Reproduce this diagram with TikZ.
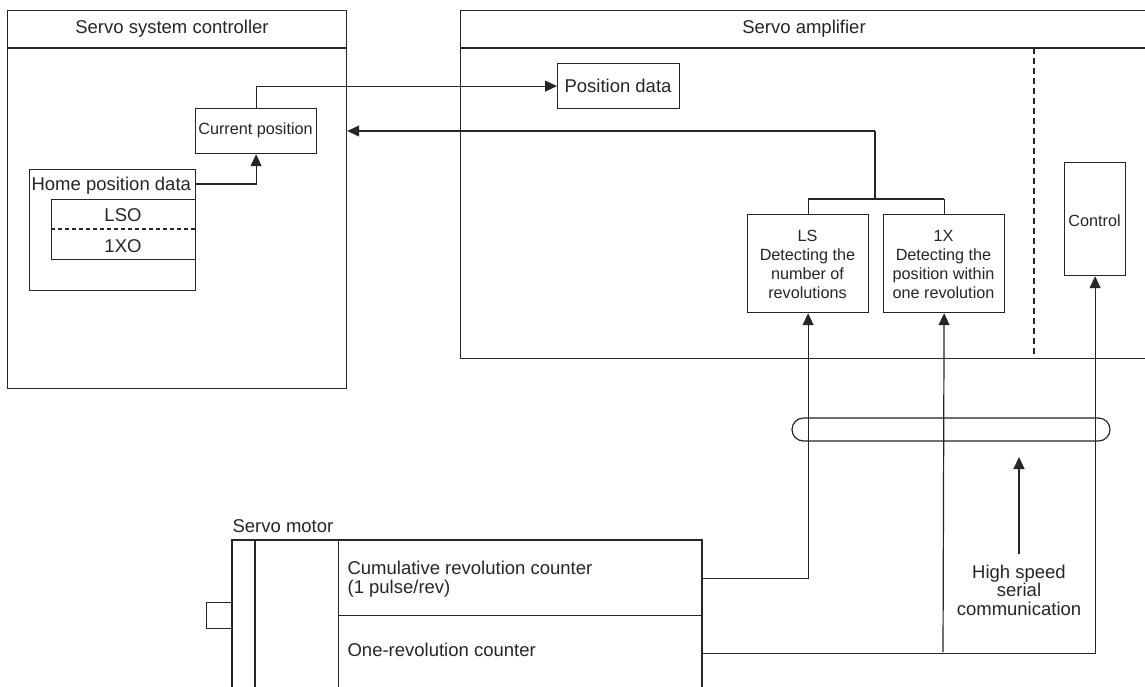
\documentclass[tikz,border=0pt]{standalone}
\usepackage{fontspec}
\setmainfont{Liberation Sans}
\usetikzlibrary{arrows.meta}
\begin{document}
\begin{tikzpicture}[x=1pt,y=-1pt,
  line width=1.2pt, draw=black!85,
  big/.style={font=\fontsize{18.5}{18.5}\selectfont, text=black!85},
  small/.style={font=\fontsize{16.2}{19}\selectfont, text=black!85},
  box/.style={draw, inner sep=0pt, anchor=north west},
  arr/.style={-{Triangle[length=12pt,width=11pt]}},
  lbl/.style={inner sep=0pt}]
\clip (0,0) rectangle (1145,686);
\fill[white] (0,0) rectangle (1145,686);

% Servo system controller
\node[box, minimum width=339pt, minimum height=378pt] (ctrl) at (7,10) {};
\draw (7,48) -- (346,48);
\node[big, lbl] (ctrlt) at (172,29) {Servo system controller};
\node[box, small, minimum width=121pt, minimum height=45pt] (cur) at (195,108) {};
\node[small, lbl] (curt) at (255.5,130.5) {Current position};
\node[box, minimum width=166pt, minimum height=121pt] (home) at (29,169) {};
\node[big, lbl, anchor=west] (homet) at (31,186) {Home position data};
\node[box, minimum width=144pt, minimum height=60pt] (lso) at (51,199) {};
\draw[dashed, dash pattern=on 4pt off 3pt] (51,229) -- (195,229);
\node[big, lbl] (lsot) at (123,215) {LSO};
\node[big, lbl] (xot) at (123,246) {1XO};

% Servo amplifier
\node[box, minimum width=690pt, minimum height=348pt] (amp) at (460,10) {};
\draw (460,48) -- (1150,48);
\node[big, lbl] (ampt) at (804,29) {Servo amplifier};
\node[box, minimum width=122pt, minimum height=45pt] (pos) at (557,63) {};
\node[big, lbl] (post) at (618,86) {Position data};
\node[box, minimum width=121pt, minimum height=98pt] (ls) at (747,214) {};
\node[small, lbl, align=center] (lst) at (807.5,264) {LS\\Detecting the\\number of\\revolutions};
\node[box, minimum width=121pt, minimum height=98pt] (onex) at (883,214) {};
\node[small, lbl, align=center] (onext) at (943.5,264) {1X\\Detecting the\\position within\\one revolution};
\draw[dashed, dash pattern=on 6pt off 4pt] (1034,48) -- (1034,358);
\node[box, minimum width=61pt, minimum height=113pt] (ctl) at (1064,162) {};
\node[small, lbl] (ctlt) at (1094.5,221) {Control};

% connectors in controller/amplifier
\coordinate (j1) at (875,131);
\coordinate (j2) at (875,199);
\draw[arr] (home.east |- 0,184) -| (cur.south);
\draw[arr] (cur.north) |- (pos.west);
\draw[arr] (j1) -- (ctrl.east |- j1);
\draw (j1) -- (j2);
\draw (ls.north |- j2) -- (onex.north |- j2);
\draw (ls.north |- j2) -- (ls.north);
\draw (onex.north |- j2) -- (onex.north);

% Servo motor
\node[big, lbl, anchor=west] (mot) at (232,526) {Servo motor};
\draw (232,700) -- (232,540) -- (702,540) -- (702,700);
\draw (255,540) -- (255,700);
\node[box, minimum width=26pt, minimum height=26pt] (shaft) at (206,602) {};
\node[box, minimum width=364pt, minimum height=75pt] (cum) at (338,540) {};
\node[box, minimum width=364pt, minimum height=75pt] (one) at (338,615) {};
\node[big, lbl, anchor=west, align=left] (cumt) at (347,579) {Cumulative revolution counter\\(1 pulse/rev)};
\node[big, lbl, anchor=west] (onet) at (347,650) {One-revolution counter};

% motor to amplifier
\coordinate (b1) at (943,652);
\draw[arr] (cum.east) -| (ls.south);
\draw[arr] (one.east) -| (ctl.south);
\draw[arr] (b1) -- (onex.south);

% high speed serial tube
\draw[rounded corners=11.5pt] (792,418) rectangle (1110,441);
\node[big, lbl, align=center, font=\fontsize{18.5}{18.5}\selectfont] (hs) at (1019,590) {High speed\\serial\\communication};
\coordinate (hstip) at (1019,457);
\draw[arr] (1019,554) -- (hstip);
\end{tikzpicture}
\end{document}
